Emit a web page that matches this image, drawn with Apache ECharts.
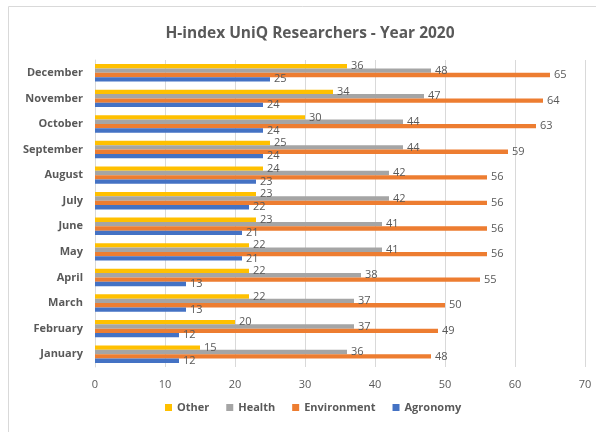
<!DOCTYPE html>
<html>
<head>
<meta charset="utf-8">
<script src="https://cdn.jsdelivr.net/npm/echarts@6/dist/echarts.min.js"></script>
<style>
  html, body { margin: 0; padding: 0; background: #fff; }
  #main { width: 596px; height: 432px; }
</style>
</head>
<body>
<div id="main"></div>
<script>
// months, bottom to top like the original
var months = ["January", "February", "March", "April", "May", "June",
  "July", "August", "September", "October", "November", "December"];
var agronomy = [12, 12, 13, 13, 21, 21, 22, 23, 24, 24, 24, 25];
var environment = [48, 49, 50, 55, 56, 56, 56, 56, 59, 63, 64, 65];
var health = [36, 37, 37, 38, 41, 41, 42, 42, 44, 44, 47, 48];
var other = [15, 20, 22, 22, 22, 23, 23, 24, 25, 30, 34, 36];
var xTicks = [0, 10, 20, 30, 40, 50, 60, 70];

var chart = echarts.init(document.getElementById("main"));

function bar(name, data, color) {
  return {
    name: name,
    type: "bar",
    data: data,
    barGap: "0%",
    barCategoryGap: "32%",
    itemStyle: { color: color },
    label: {
      show: true,
      position: "right",
      distance: 4,
      color: "#595959",
      fontSize: 11,
      fontFamily: "Open Sans"
    }
  };
}

chart.setOption({
  animation: false,
  textStyle: { fontFamily: "Open Sans" },
  title: {
    text: "H-index UniQ Researchers - Year 2020",
    left: 305,
    top: 21,
    textAlign: "center",
    textStyle: { fontSize: 15.5, fontWeight: "bold", color: "#595959", fontFamily: "Open Sans" }
  },
  graphic: [{
    type: "rect",
    shape: { x: 8.5, y: 6.5, width: 600, height: 440 },
    style: { fill: null, stroke: "#d9d9d9", lineWidth: 1 },
    silent: true
  }],
  legend: {
    bottom: 14,
    left: 160,
    itemWidth: 7,
    itemHeight: 7,
    itemGap: 17,
    icon: "rect",
    data: ["Other", "Health", "Environment", "Agronomy"],
    textStyle: { color: "#595959", fontSize: 11, fontWeight: "bold" }
  },
  grid: { left: 95, right: 11, top: 60, bottom: 65 },
  xAxis: {
    type: "value",
    min: xTicks[0],
    max: xTicks[xTicks.length - 1],
    interval: 10,
    axisLine: { show: false },
    axisTick: { show: false },
    axisLabel: { color: "#595959", fontSize: 11, margin: 12 },
    splitLine: { lineStyle: { color: "#d9d9d9" } }
  },
  yAxis: {
    type: "category",
    data: months,
    axisLine: { lineStyle: { color: "#d9d9d9" } },
    axisTick: { show: false },
    axisLabel: { color: "#595959", fontSize: 11, fontWeight: "bold", margin: 12 }
  },
  // first series is drawn on top of each band in echarts
  series: [
    bar("Other", other, "#ffc000"),
    bar("Health", health, "#a5a5a5"),
    bar("Environment", environment, "#ed7d31"),
    bar("Agronomy", agronomy, "#4472c4")
  ]
});
</script>
</body>
</html>
